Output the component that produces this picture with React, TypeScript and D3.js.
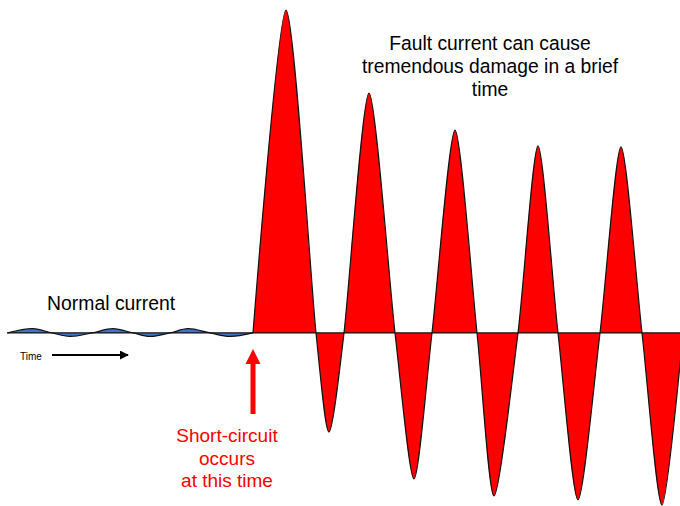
import React from "react";
import * as d3 from "d3";

// time in ms (t = 0 at the short circuit), current in per-unit % of first peak
const normalTimes = [-49.1, -44.0, -40.2, -36.6, -32.2, -28.0, -24.0, -20.6, -16.6, -13.0, -8.6, -4.6, 0];
const normalValues = [0, 1.3, 0, -1.1, 0, 1.3, 0, -1.1, 0, 1.3, 0, -1.1, 0];

const faultTimes = [0, 6.6, 12.6, 15.2, 18.2, 23.2, 28.4, 32.2, 35.8, 40.4, 44.8, 48.2, 53, 57, 61, 65, 69.4, 73.6, 77.8, 81.8, 86];
const faultValues = [0, 100, 0, -30.7, 0, 74.3, 0, -45.2, 0, 62.8, 0, -50.5, 0, 57.9, 0, -51.7, 0, 57.6, 0, -53.3, 0];

const titleLines = ["Fault current can cause", "tremendous damage in a brief", "time"];
const faultLabelLines = ["Short-circuit", "occurs", "at this time"];
const normalLabel = "Normal current";
const timeLabel = "Time";

const W = 680;
const H = 506;
const FONT = "'Liberation Sans', Arial, sans-serif";

export default function App() {
  const x = d3.scaleLinear().domain([-49, 85.4]).range([8, 680]);
  const y = d3.scaleLinear().domain([-53.6, 100]).range([506, 10]);
  const y0 = y(0);

  const normal = normalTimes.map((t, i) => [t, normalValues[i]] as [number, number]);
  const fault = faultTimes.map((t, i) => [t, faultValues[i]] as [number, number]);

  const mkArea = (c: any) =>
    d3
      .area<[number, number]>()
      .x((d) => x(d[0]))
      .y0(y0)
      .y1((d) => y(d[1]))
      .curve(c);
  const mkLine = (c: any) =>
    d3
      .line<[number, number]>()
      .x((d) => x(d[0]))
      .y((d) => y(d[1]))
      .curve(c);

  const faultCurve = d3.curveCardinal.tension(0.25);
  const normalCurve = d3.curveCatmullRom;

  const scX = x(0);

  return (
    <svg
      width={W}
      height={H}
      style={{ position: "absolute", left: 0, top: 0, background: "#fff" }}
      fontFamily={FONT}
    >
      <defs>
        <marker id="blackHead" viewBox="0 0 10 10" refX="9" refY="5" markerWidth="4.5" markerHeight="4.5" orient="auto">
          <path d="M0,0 L10,5 L0,10 Z" fill="#000" />
        </marker>
      </defs>

      {/* normal current */}
      <path d={mkArea(normalCurve)(normal) || ""} fill="#4472C4" />
      <path d={mkLine(normalCurve)(normal) || ""} fill="none" stroke="#111" strokeWidth={1.2} />

      {/* fault current */}
      <path d={mkArea(faultCurve)(fault) || ""} fill="#FF0000" />
      <path d={mkLine(faultCurve)(fault) || ""} fill="none" stroke="#111" strokeWidth={1.2} />

      {/* baseline */}
      <line x1={x(-49.2)} x2={W} y1={y0} y2={y0} stroke="#111" strokeWidth={1.4} />

      {/* labels */}
      <text x={47} y={310} fontSize={19.4} fill="#000">
        {normalLabel}
      </text>
      <text x={20} y={360} fontSize={10} fill="#000">
        {timeLabel}
      </text>
      <line x1={52} x2={128} y1={355} y2={355} stroke="#000" strokeWidth={2} markerEnd="url(#blackHead)" />

      {/* red arrow */}
      <rect x={scX - 2.5} y={362} width={5} height={52} fill="#FF0000" />
      <path d={`M${scX},349 L${scX + 7.5},364 L${scX - 7.5},364 Z`} fill="#FF0000" />

      <text textAnchor="middle" fontSize={19} fill="#FF0000">
        {faultLabelLines.map((s, i) => (
          <tspan key={i} x={227} y={442 + i * 22.5}>
            {s}
          </tspan>
        ))}
      </text>

      <text textAnchor="middle" fontSize={19.3} fill="#000">
        {titleLines.map((s, i) => (
          <tspan key={i} x={490} y={50 + i * 23}>
            {s}
          </tspan>
        ))}
      </text>
    </svg>
  );
}
